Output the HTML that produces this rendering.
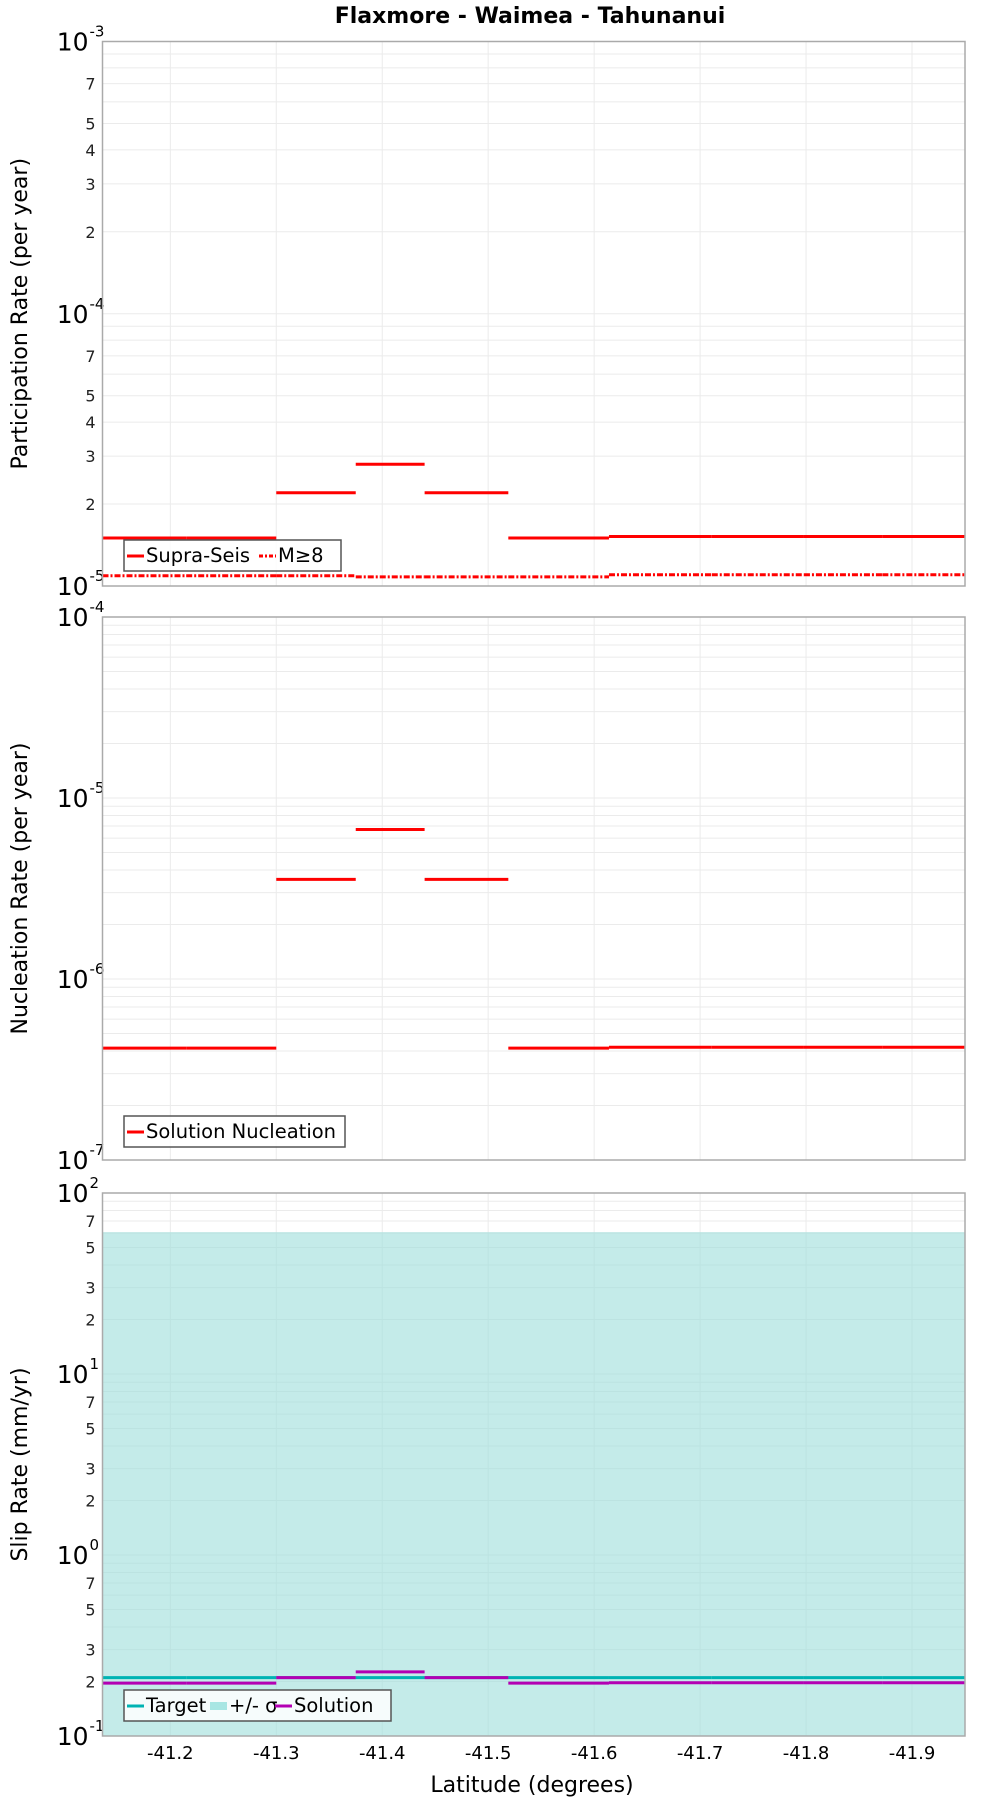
<!DOCTYPE html>
<html><head><meta charset="utf-8"><style>
body{margin:0;background:#fff;}
svg{display:block;font-family:"DejaVu Sans","Liberation Sans",sans-serif;}
</style></head><body>
<svg id="c" width="1000" height="1800" xmlns="http://www.w3.org/2000/svg">
<text x="530" y="23" text-anchor="middle" font-weight="bold" font-size="22">Flaxmore - Waimea - Tahunanui</text>
<text x="532" y="1792" text-anchor="middle" font-size="22">Latitude (degrees)</text>
</svg>
<script>
const bounds = [-41.136,-41.215,-41.30,-41.375,-41.44,-41.519,-41.614,-41.711,-41.798,-41.872,-41.95];
const xTicks = [-41.2,-41.3,-41.4,-41.5,-41.6,-41.7,-41.8,-41.9];
const participation = [1.5e-5,1.5e-5,2.2e-5,2.8e-5,2.2e-5,1.5e-5,1.52e-5,1.52e-5,1.52e-5,1.52e-5];
const m8 = [1.09e-5,1.09e-5,1.09e-5,1.08e-5,1.08e-5,1.08e-5,1.1e-5,1.1e-5,1.1e-5,1.1e-5];
const nucleation = [4.15e-7,4.15e-7,3.55e-6,6.7e-6,3.55e-6,4.15e-7,4.2e-7,4.2e-7,4.2e-7,4.2e-7];
const target = [0.21,0.21,0.21,0.21,0.21,0.21,0.21,0.21,0.21,0.21];
const solution = [0.196,0.196,0.21,0.226,0.21,0.196,0.197,0.197,0.197,0.197];
const sigmaHi = 60.8, sigmaLo = 0.05;

const svg = document.getElementById('c');
const NS = 'http://www.w3.org/2000/svg';
const L = 102.5, R = 965;
const xDom = [-41.136, -41.95];
function xs(v){ return L + (v - xDom[0]) / (xDom[1] - xDom[0]) * (R - L); }
function mk(tag, attrs, parent){ const e = document.createElementNS(NS, tag); for (const k in attrs) e.setAttribute(k, attrs[k]); (parent||svg).appendChild(e); return e; }

function panel(top, bot, eMin, eMax, minorLabels, title, id){
  const g = mk('g', {});
  
  
  const ys = v => bot - (Math.log10(v) - eMin) / (eMax - eMin) * (bot - top);
  for (let e = eMin; e < eMax; e++) for (let m = 1; m <= 9; m++) {
    const v = m * Math.pow(10, e), y = ys(v);
    const gl = mk('line', {x1:L, x2:R, y1:y, y2:y, stroke:'#ebebeb', 'stroke-width':1}, g);
    
    
    if (m === 1) {
      const t = mk('text', {x:L-14, y:y+9, 'text-anchor':'end', 'font-size':25}, g);
      t.textContent = '10';
      
      
      const s = mk('text', {x:L-13, y:y-5, 'font-size':15}, g);
      s.textContent = String(e);
      
      
    } else if (minorLabels.includes(m)) {
      const t = mk('text', {x:L-7, y:y+6, 'text-anchor':'end', 'font-size':16, fill:'#222'}, g);
      t.textContent = String(m);
      
      
    }
  }
  { const y = ys(Math.pow(10, eMax));
    const t = mk('text', {x:L-14, y:y+9, 'text-anchor':'end', 'font-size':25}, g); t.textContent = '10';
    
    
    const s = mk('text', {x:L-13, y:y-5, 'font-size':15}, g); s.textContent = String(eMax);
    
     }
  xTicks.forEach(v => {
    const gl = mk('line', {x1:xs(v), x2:xs(v), y1:top, y2:bot, stroke:'#ebebeb', 'stroke-width':1}, g);
    
    
  });
  const ttl = mk('text', {transform:`translate(27,${(top+bot)/2}) rotate(-90)`, 'text-anchor':'middle', 'font-size':22}, g);
  ttl.textContent = title;
  
  
  return {g, ys};
}
function frame(top, bot, g){
  const f = mk('rect', {x:L, y:top, width:R-L, height:bot-top, fill:'none', stroke:'#aaa', 'stroke-width':1.5}, g);
  
  
}
function steps(arr, ys, g, color, name, dash){
  arr.forEach((v, i) => {
    const a = {x1:xs(bounds[i]), x2:xs(bounds[i+1]), y1:ys(v), y2:ys(v), stroke:color, 'stroke-width':3};
    if (dash) a['stroke-dasharray'] = dash;
    const l = mk('line', a, g);
    
    
  });
}
function legend(x, y, w, items, g){
  const lg = mk('g', {}, g);
  
  
  mk('rect', {x:x, y:y, width:w, height:31, fill:'#fff', 'fill-opacity':0.85, stroke:'#555', 'stroke-width':1.5}, lg);
  let cx = x + 3;
  items.forEach(it => {
    const e = mk('line', {x1:cx, x2:cx+17, y1:y+16, y2:y+16, stroke:it.c, 'stroke-width':it.w||3}, lg);
    if (it.d) e.setAttribute('stroke-dasharray', it.d);
    const t = mk('text', {x:cx+19, y:y+22, 'font-size':19.5}, lg);
    t.textContent = it.t;
    
    
    cx += 19 + it.tw;
  });
}

// Panel 1
let p = panel(41.5, 586, -5, -3, [2,3,4,5,7], 'Participation Rate (per year)', 'participation');
steps(participation, p.ys, p.g, '#ff0000', 'supra-seis');
steps(m8, p.ys, p.g, '#ff0000', 'm8', '6,2,2,2');
frame(41.5, 586, p.g);
legend(124, 540, 217, [{c:'#f00', t:'Supra-Seis', tw:113},{c:'#f00', t:'M≥8', d:'4,2,2,2', tw:50}], p.g);

// Panel 2
p = panel(617, 1160, -7, -4, [], 'Nucleation Rate (per year)', 'nucleation');
steps(nucleation, p.ys, p.g, '#ff0000', 'nucleation');
frame(617, 1160, p.g);
legend(124, 1116, 221, [{c:'#f00', t:'Solution Nucleation', tw:200}], p.g);

// Panel 3
p = panel(1193, 1736, -1, 2, [2,3,5,7], 'Slip Rate (mm/yr)', 'slip');
const band = mk('rect', {x:L, y:p.ys(sigmaHi), width:R-L, height:1736-p.ys(sigmaHi), fill:'#9fdfdc', 'fill-opacity':0.62}, p.g);


steps(target, p.ys, p.g, '#00b3b3', 'target');
steps(solution, p.ys, p.g, '#b300b3', 'solution');
frame(1193, 1736, p.g);
legend(124, 1690, 267, [{c:'#00b3b3', t:'Target', tw:64},{c:'#a8e6e3', t:'+/- σ', w:8, tw:46},{c:'#b300b3', t:'Solution', tw:80}], p.g);

// X tick labels
xTicks.forEach(v => {
  const t = mk('text', {x:xs(v), y:1759, 'text-anchor':'middle', 'font-size':18});
  t.textContent = v.toFixed(1);
  
  
});
</script>
</body></html>
